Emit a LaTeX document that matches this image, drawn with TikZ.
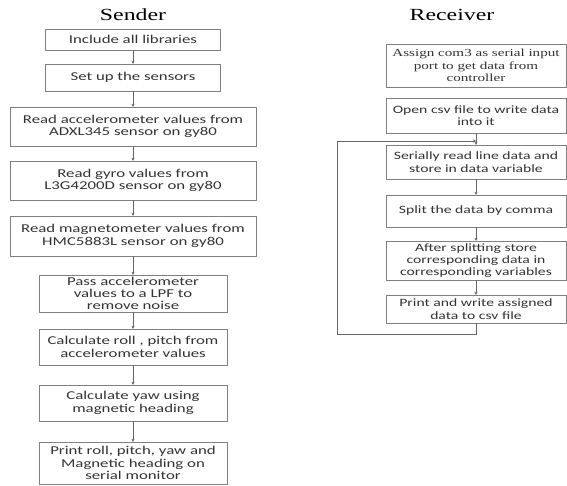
\documentclass[tikz,border=0pt]{standalone}
\usepackage{fontspec}
\setmainfont[FakeStretch=1.4]{Carlito}
\newfontfamily\serifwide[FakeStretch=1.4]{Liberation Serif}
\usetikzlibrary{arrows.meta}

\begin{document}
\begin{tikzpicture}[x=1pt, y=-1pt,
  stepbox/.style={draw=black!50, rectangle, align=center, inner sep=1pt, text=black!80,
    font=\fontsize{12}{12.3}\selectfont},
  rstepbox/.style={stepbox, minimum width=180, font=\fontsize{11.2}{12.3}\selectfont},
  flow/.style={draw=black!60, -{Stealth[length=3pt, width=3pt]}},
  title/.style={font=\serifwide\fontsize{17}{18}\selectfont}]

  \useasboundingbox (0,0) rectangle (567,485);

  % ==========================================
  % SECTION 1: Sender
  % ==========================================
  \begin{scope}
    \node[title] (sender) at (133,15) {Sender};

    % Steps
    \node[stepbox, minimum width=175, minimum height=21] (incl) at (133,39.5) {Include all libraries};
    \node[stepbox, minimum width=175, minimum height=27] (setup) at (133,77.5) {Set up the sensors};
    \node[stepbox, minimum width=246, minimum height=39] (accel) at (133,126.5) {Read accelerometer values from\\ADXL345 sensor on gy80};
    \node[stepbox, minimum width=246, minimum height=39] (gyro) at (133,180.5) {Read gyro values from\\L3G4200D sensor on gy80};
    \node[stepbox, minimum width=246, minimum height=40] (magn) at (133,236) {Read magnetometer values from\\HMC5883L sensor on gy80};
    \node[stepbox, minimum width=188, minimum height=37] (lpf) at (133,293.5) {Pass accelerometer\\values to a LPF to\\remove noise};
    \node[stepbox, minimum width=188, minimum height=36] (roll) at (133,347) {Calculate roll , pitch from\\accelerometer values};
    \node[stepbox, minimum width=188, minimum height=36] (yaw) at (133,403) {Calculate yaw using\\magnetic heading};
    \node[stepbox, minimum width=188, minimum height=42] (print) at (133,463) {Print roll, pitch, yaw and\\Magnetic heading on\\serial monitor};

    % Connectors
    \foreach \a/\b in {incl/setup, setup/accel, accel/gyro, gyro/magn, magn/lpf, lpf/roll, roll/yaw, yaw/print}
      \draw[flow] (\a) -- (\b);
  \end{scope}

  % ==========================================
  % SECTION 2: Receiver
  % ==========================================
  \begin{scope}
    \node[title] (receiver) at (452,15) {Receiver};

    % Steps
    \node[rstepbox, minimum height=43, font=\serifwide\fontsize{10.8}{12.3}\selectfont] (port) at (476,65.5) {Assign com3 as serial input\\port to get data from\\controller};
    \node[rstepbox, minimum height=35] (csv) at (476,115.5) {Open csv file to write data\\into it};
    \node[rstepbox, minimum height=34] (readl) at (476,162) {Serially read line data and\\store in data variable};
    \node[rstepbox, minimum height=32] (split) at (476,211) {Split the data by comma};
    \node[rstepbox, minimum height=39] (store) at (476,260.5) {After splitting store\\corresponding data in\\corresponding variables};
    \node[rstepbox, minimum height=28] (write) at (476,309) {Print and write assigned\\data to csv file};

    % Connectors
    \coordinate (join) at (476,141);
    \draw[draw=black!60] (csv) -- (join);
    \foreach \a/\b in {join/readl, readl/split, split/store, store/write}
      \draw[flow] (\a) -- (\b);

    % Loop back
    \draw[flow] (write.south) |- (337,334) |- (join);
  \end{scope}

\end{tikzpicture}
\end{document}
